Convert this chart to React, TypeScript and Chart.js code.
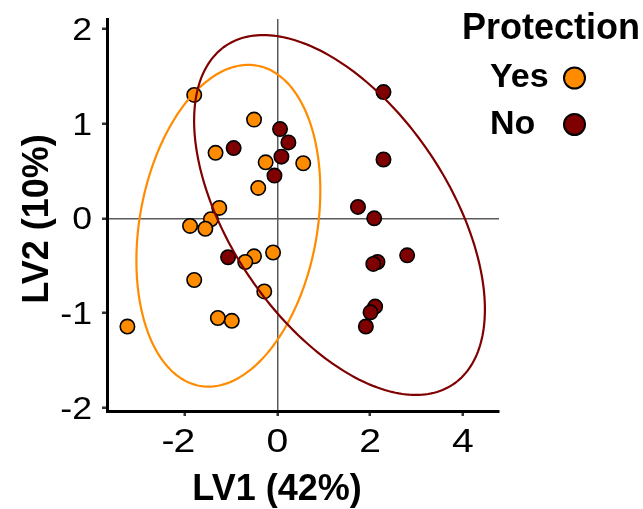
import React, { useEffect, useRef } from "react";
import { Chart, registerables } from "chart.js";

Chart.register(...registerables);

// ---- data ----
const groupLabels = ["Yes", "No"];
const groupColors = ["#FF8C00", "#7F0000"];

const yesX = [-1.79, -0.5, -1.33, -0.25, 0.56, -0.41, -1.25, -1.43, -1.88, -1.55, -0.5, -0.69, -0.09, -1.79, -0.28, -1.28, -0.98, -3.23];
const yesY = [1.3, 1.04, 0.69, 0.59, 0.58, 0.32, 0.11, -0.01, -0.08, -0.11, -0.4, -0.46, -0.36, -0.65, -0.77, -1.05, -1.08, -1.14];

const noX = [0.06, 0.24, -0.94, 0.09, -0.06, -1.06, 2.29, 2.29, 1.74, 2.09, 2.8, 2.16, 2.07, 2.11, 2.01, 1.91];
const noY = [0.94, 0.8, 0.74, 0.65, 0.45, -0.41, 1.33, 0.62, 0.12, 0.0, -0.39, -0.46, -0.48, -0.93, -0.99, -1.14];

const xTicks = [-2, 0, 2, 4];
const yTicks = [-2, -1, 0, 1, 2];
const xRange = [-3.67, 4.78];
const yRange = [-2.03, 2.1];

// confidence ellipses: centre and two conjugate semi-axis vectors (data units)
const yesEllipse = [-1.054, -0.078, 1.935, 0, 0.43, 1.695];
const noEllipse = [1.342, 0.035, 2.669, 0, -1.643, 1.896];

const xTitle = "LV1 (42%)";
const yTitle = "LV2 (10%)";
const legendTitle = "Protection";

const FONT = "'Liberation Sans', Arial, Helvetica, sans-serif";
const STRETCH = 1.15;

const ellipsePlugin = {
  id: "ellipses",
  afterDatasetsDraw(chart: any) {
    const { ctx, scales } = chart;
    const xs = scales.x;
    const ys = scales.y;
    const list = [yesEllipse, noEllipse];
    list.forEach((e, k) => {
      ctx.save();
      ctx.beginPath();
      const n = 240;
      for (let i = 0; i <= n; i++) {
        const t = (i / n) * Math.PI * 2;
        const vx = e[0] + e[2] * Math.cos(t) + e[4] * Math.sin(t);
        const vy = e[1] + e[3] * Math.cos(t) + e[5] * Math.sin(t);
        const px = xs.getPixelForValue(vx);
        const py = ys.getPixelForValue(vy);
        if (i === 0) ctx.moveTo(px, py);
        else ctx.lineTo(px, py);
      }
      ctx.closePath();
      ctx.strokeStyle = groupColors[k];
      ctx.lineWidth = 2.2;
      ctx.stroke();
      ctx.restore();
    });
  },
};

function stretchedText(ctx: any, text: string, x: number, y: number, align: string) {
  ctx.save();
  ctx.translate(x, y);
  ctx.scale(STRETCH, 1);
  ctx.textAlign = align;
  ctx.fillText(text, 0, 0);
  ctx.restore();
}

const textPlugin = {
  id: "texts",
  afterDraw(chart: any) {
    const { ctx, scales, chartArea } = chart;
    ctx.save();
    ctx.fillStyle = "#000";
    ctx.textBaseline = "alphabetic";

    // y tick labels
    ctx.font = `31px ${FONT}`;
    yTicks.forEach((v) => {
      const py = scales.y.getPixelForValue(v);
      stretchedText(ctx, String(v), chartArea.left - 15, py + 11.1, "right");
    });
    // x tick labels (digits centred on the tick, minus sign hanging left)
    ctx.font = `34px ${FONT}`;
    xTicks.forEach((v) => {
      const px = scales.x.getPixelForValue(v);
      const body = String(Math.abs(v));
      const w = ctx.measureText(body).width * STRETCH;
      stretchedText(ctx, body, px, chartArea.bottom + 40.5, "center");
      if (v < 0) stretchedText(ctx, "-", px - w / 2 + 1, chartArea.bottom + 40.5, "right");
    });

    // x title
    ctx.font = `bold 36px ${FONT}`;
    ctx.textAlign = "center";
    ctx.fillText(xTitle, 277, 500);
    // y title
    ctx.save();
    ctx.translate(47.5, 219);
    ctx.rotate(-Math.PI / 2);
    ctx.fillText(yTitle, 0, 0);
    ctx.restore();
    // legend
    ctx.textAlign = "left";
    ctx.font = `bold 36px ${FONT}`;
    ctx.fillText(legendTitle, 462, 39);
    ctx.font = `bold 34px ${FONT}`;
    const rowsY = [87, 134];
    const dotY = [78, 124.5];
    groupLabels.forEach((lab, i) => {
      ctx.fillStyle = "#000";
      ctx.fillText(lab, 490, rowsY[i]);
      ctx.beginPath();
      ctx.arc(574.5, dotY[i], 10.5, 0, Math.PI * 2);
      ctx.fillStyle = groupColors[i];
      ctx.fill();
      ctx.lineWidth = 2;
      ctx.strokeStyle = "#000";
      ctx.stroke();
    });
    ctx.restore();
  },
};

function axisCommon(ticks: number[]) {
  return {
    afterBuildTicks: (scale: any) => {
      scale.ticks = ticks.map((v) => ({ value: v }));
    },
    grid: {
      color: (c: any) => (c.tick && c.tick.value === 0 ? "#5a5a5a" : "rgba(0,0,0,0)"),
      lineWidth: 1.5,
      drawTicks: true,
      tickLength: 5,
      tickColor: "#333",
      tickWidth: 2.5,
    },
    border: { display: true, color: "#000", width: 3 },
    ticks: { display: false, autoSkip: false },
  };
}

export default function App() {
  const ref = useRef<HTMLCanvasElement>(null);
  useEffect(() => {
    const chart = new Chart(ref.current as HTMLCanvasElement, {
      type: "scatter",
      data: {
        datasets: [
          {
            label: groupLabels[0],
            data: yesX.map((x, i) => ({ x, y: yesY[i] })),
            backgroundColor: groupColors[0],
            borderColor: "#000",
            borderWidth: 1.6,
            pointRadius: 7.2,
          },
          {
            label: groupLabels[1],
            data: noX.map((x, i) => ({ x, y: noY[i] })),
            backgroundColor: groupColors[1],
            borderColor: "#000",
            borderWidth: 1.6,
            pointRadius: 7.2,
          },
        ],
      },
      options: {
        responsive: false,
        animation: false,
        devicePixelRatio: 1,
        events: [],
        layout: { padding: { left: 0, right: 144, top: 19, bottom: 0 } },
        plugins: { legend: { display: false }, tooltip: { enabled: false } },
        scales: {
          x: {
            type: "linear",
            min: xRange[0],
            max: xRange[1],
            ...axisCommon(xTicks),
            afterFit: (s: any) => {
              s.height = 98;
              s.paddingLeft = 0;
              s.paddingRight = 0;
            },
          },
          y: {
            type: "linear",
            min: yRange[0],
            max: yRange[1],
            ...axisCommon(yTicks),
            afterFit: (s: any) => {
              s.width = 107;
              s.paddingTop = 0;
              s.paddingBottom = 0;
            },
          },
        },
      } as any,
      plugins: [ellipsePlugin, textPlugin],
    });
    return () => chart.destroy();
  }, []);
  return (
    <div style={{ position: "absolute", left: 0, top: 0, width: 643, height: 509, background: "#fff" }}>
      <canvas ref={ref} width={643} height={509} style={{ width: 643, height: 509, display: "block" }} />
    </div>
  );
}
